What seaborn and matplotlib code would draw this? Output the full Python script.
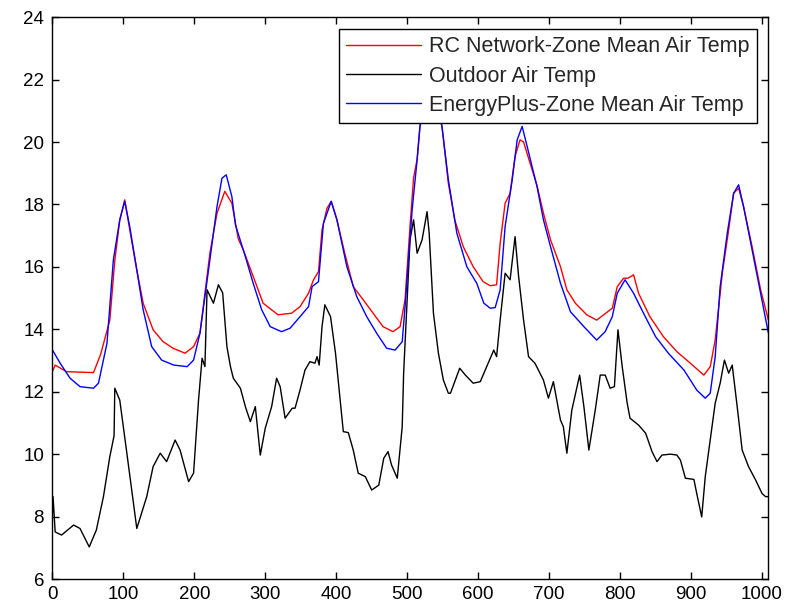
import numpy as np
import matplotlib
matplotlib.use("Agg")
import matplotlib.pyplot as plt
import seaborn as sns

# hours (x) and temperatures
rc_x = [0, 4, 20, 58, 68, 81, 88, 95, 102, 109, 119, 128, 142, 156, 170, 187, 199, 208,
        215, 222, 232, 243, 253, 262, 269, 283, 297, 318, 337, 349, 361, 368, 375, 380,
        387, 393, 401, 412, 424, 438, 452, 466, 480, 490, 497, 504, 509, 514, 518, 533,
        549, 558, 567, 579, 593, 607, 617, 626, 631, 638, 645, 652, 659, 664, 671, 683,
        692, 702, 716, 725, 737, 753, 767, 789, 796, 805, 811, 819, 826, 842, 861, 880,
        899, 918, 927, 934, 944, 953, 960, 967, 974, 986, 998, 1009]
rc_temp = [12.65, 12.86, 12.65, 12.62, 13.2, 14.3, 16.2, 17.5, 18.15, 17.2, 15.9, 14.84,
           13.99, 13.61, 13.4, 13.24, 13.45, 13.88, 15.16, 16.44, 17.72, 18.42, 18.04,
           16.9, 16.55, 15.7, 14.84, 14.47, 14.52, 14.73, 15.16, 15.59, 15.85, 17.19,
           17.88, 18.1, 17.51, 16.44, 15.37, 14.95, 14.52, 14.09, 13.93, 14.09, 14.95,
           17.3, 18.85, 19.45, 20.5, 22.0, 20.5, 18.68, 17.51, 16.65, 16.01, 15.53, 15.4,
           15.43, 16.76, 18.04, 18.36, 19.54, 20.07, 20.0, 19.48, 18.6, 17.72, 16.87,
           16.01, 15.27, 14.84, 14.47, 14.3, 14.68, 15.37, 15.64, 15.64, 15.75, 15.16,
           14.41, 13.77, 13.29, 12.92, 12.54, 12.81, 13.66, 15.8, 17.19, 18.36, 18.52,
           17.93, 16.65, 15.27, 14.3]

out_x = [0, 1, 4, 13, 30, 39, 52, 62, 72, 81, 87, 88, 95, 105, 119, 133, 142, 152, 161,
         173, 180, 192, 199, 206, 211, 215, 218, 227, 234, 240, 246, 251, 255, 265, 272,
         279, 286, 293, 300, 309, 316, 321, 328, 338, 342, 349, 356, 363, 370, 373, 376,
         380, 384, 392, 399, 406, 410, 417, 424, 431, 441, 450, 460, 467, 473, 478, 486,
         493, 495, 500, 504, 509, 514, 521, 528, 531, 537, 544, 551, 558, 561, 574, 582,
         593, 603, 612, 622, 626, 631, 638, 645, 652, 657, 664, 671, 680, 692, 699, 706,
         716, 720, 725, 732, 743, 749, 756, 765, 772, 779, 786, 792, 797, 803, 810, 814,
         826, 836, 845, 852, 859, 871, 880, 885, 892, 904, 908, 915, 920, 927, 934, 941,
         947, 953, 958, 965, 972, 981, 991, 1000, 1005, 1009]
out_temp = [8.0, 8.65, 7.52, 7.42, 7.74, 7.63, 7.04, 7.58, 8.65, 9.93, 10.6, 12.12, 11.74,
            10.04, 7.63, 8.65, 9.61, 10.04, 9.77, 10.46, 10.14, 9.13, 9.4, 11.74, 13.08,
            12.81, 15.27, 14.84, 15.43, 15.17, 13.45, 12.81, 12.44, 12.12, 11.53, 11.05,
            11.53, 9.98, 10.84, 11.53, 12.44, 12.17, 11.16, 11.48, 11.48, 12.06, 12.7,
            12.97, 12.92, 13.13, 12.86, 14.09, 14.79, 14.41, 13.24, 11.64, 10.73, 10.7,
            10.14, 9.4, 9.29, 8.86, 9.02, 9.88, 10.09, 9.66, 9.24, 10.89, 12.6, 14.95,
            16.87, 17.51, 16.44, 16.87, 17.77, 17.08, 14.52, 13.24, 12.38, 11.96, 11.96,
            12.76, 12.54, 12.28, 12.33, 12.81, 13.34, 13.13, 14.3, 15.8, 15.59, 16.97,
            15.7, 14.3, 13.13, 12.92, 12.38, 11.8, 12.33, 11.1, 10.89, 10.04, 11.42,
            12.54, 11.53, 10.14, 11.42, 12.54, 12.54, 12.12, 12.17, 13.99, 12.81, 11.64,
            11.16, 10.94, 10.68, 10.09, 9.77, 9.98, 10.01, 9.98, 9.82, 9.24, 9.2, 8.75,
            8.0, 9.29, 10.46, 11.64, 12.28, 13.02, 12.6, 12.86, 11.53, 10.14, 9.61, 9.18,
            8.75, 8.65, 8.65]

ep_x = [0, 11, 25, 39, 58, 65, 77, 86, 95, 102, 109, 119, 128, 140, 154, 171, 190, 199,
        208, 215, 222, 232, 239, 245, 253, 258, 272, 283, 295, 307, 323, 335, 349, 361,
        366, 375, 382, 393, 401, 415, 429, 443, 457, 471, 483, 493, 497, 507, 514, 518,
        533, 549, 558, 570, 584, 598, 608, 617, 624, 631, 638, 648, 655, 662, 669, 683,
        692, 702, 716, 730, 749, 767, 779, 789, 796, 807, 819, 833, 850, 868, 890, 908,
        920, 927, 934, 941, 951, 960, 967, 974, 986, 998, 1009]
ep_temp = [13.35, 12.92, 12.44, 12.17, 12.12, 12.28, 13.56, 16.23, 17.51, 18.1, 17.3,
           15.91, 14.63, 13.45, 13.02, 12.86, 12.81, 13.02, 13.88, 15.05, 16.23, 17.93,
           18.84, 18.95, 18.25, 17.35, 16.33, 15.48, 14.63, 14.09, 13.93, 14.04, 14.41,
           14.73, 15.37, 15.53, 17.4, 18.1, 17.51, 16.01, 15.05, 14.41, 13.88, 13.4,
           13.34, 13.61, 14.73, 17.83, 19.43, 20.5, 22.1, 20.5, 18.79, 17.08, 16.01,
           15.48, 14.84, 14.68, 14.7, 15.27, 17.3, 18.79, 20.07, 20.5, 19.86, 18.57,
           17.51, 16.65, 15.48, 14.57, 14.09, 13.66, 13.93, 14.41, 15.16, 15.59, 15.16,
           14.52, 13.77, 13.24, 12.7, 12.06, 11.8, 11.96, 13.13, 15.37, 17.08, 18.36,
           18.63, 17.93, 16.55, 15.16, 13.88]

sns.set_style("ticks")
plt.rcParams['font.family'] = ['Liberation Sans', 'DejaVu Sans']

fig = plt.figure(figsize=(7.93, 6.08), dpi=100)
ax = fig.add_axes([0.066, 0.047, 0.903, 0.925])

sns.lineplot(x=rc_x, y=rc_temp, color='#ff0000', linewidth=1.0, ax=ax,
             label='RC Network-Zone Mean Air Temp')
sns.lineplot(x=out_x, y=out_temp, color='black', linewidth=1.0, ax=ax,
             label='Outdoor Air Temp')
sns.lineplot(x=ep_x, y=ep_temp, color='#0000ff', linewidth=1.0, ax=ax,
             label='EnergyPlus-Zone Mean Air Temp')

ax.set_xlim(0, 1009)
ax.set_ylim(6, 24)
ax.set_xticks(np.arange(0, 1001, 100))
ax.set_yticks(np.arange(6, 25, 2))
ax.tick_params(direction='in', top=True, right=True, labelsize=13.5, length=5,
               width=1, colors='black')
ax.tick_params(axis='y', pad=6)
ax.tick_params(axis='x', pad=5)
for s in ax.spines.values():
    s.set_visible(True)
    s.set_color('black')
    s.set_linewidth(1)

leg = ax.legend(loc='upper right', bbox_to_anchor=(0.984, 0.979), borderaxespad=0,
                fontsize=15.5, frameon=True, fancybox=False, framealpha=1,
                handlelength=3.5, handletextpad=0.35, labelspacing=0.38,
                borderpad=0.35)
leg.get_frame().set_edgecolor('black')
leg.get_frame().set_linewidth(1)
leg.set_zorder(10)

fig.savefig('out.png', dpi=100)
